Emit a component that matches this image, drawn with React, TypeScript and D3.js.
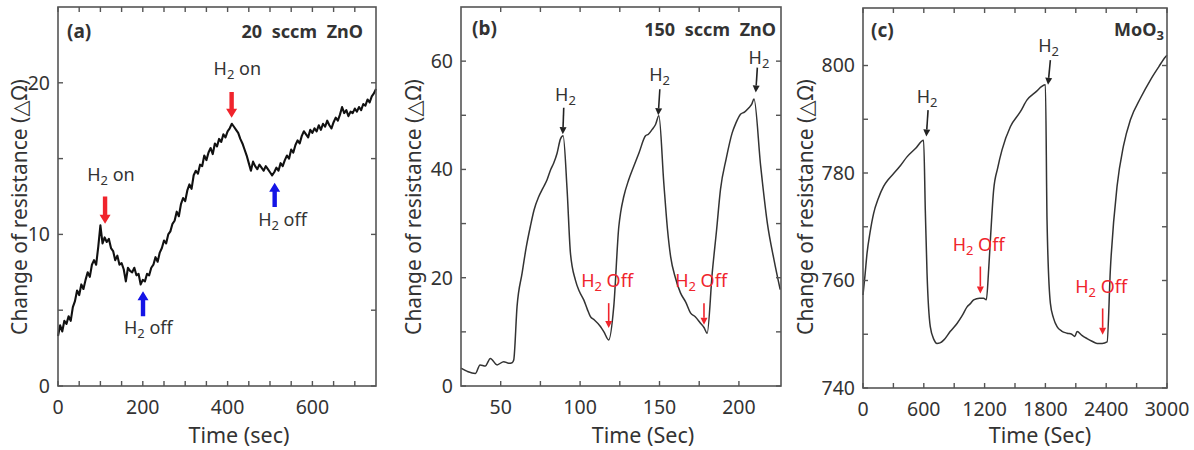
import React from "react";
import * as d3 from "d3";

// ---------- DATA ----------
// Panel (a): 20 sccm ZnO, sampled every 5 s
const aTime = d3.range(0, 755, 5);
const aValue = [
  3.3, 4.0, 3.6, 4.3, 4.1, 4.6, 4.3, 5.2, 5.6, 6.3,
  6.0, 6.7, 6.4, 7.0, 7.5, 7.2, 8.0, 8.3, 8.0, 9.2,
  10.6, 9.4, 9.8, 9.5, 9.7, 9.1, 8.9, 8.3, 8.6, 8.0,
  8.1, 7.7, 6.9, 7.8, 7.6, 7.5, 7.8, 7.3, 7.4, 6.7,
  7.0, 6.9, 7.4, 7.3, 7.8, 8.0, 8.5, 8.2, 8.8, 9.1,
  9.6, 9.4, 10.0, 10.2, 10.7, 10.9, 11.5, 11.2, 12.0, 12.4,
  12.2, 12.9, 13.3, 13.0, 13.9, 14.2, 14.0, 14.6, 14.5, 15.2,
  14.9, 15.4, 15.7, 15.3, 16.0, 15.8, 16.3, 16.1, 16.6, 16.4,
  16.8, 17.0, 17.3, 17.1, 16.9, 16.7, 16.3, 16.0, 15.6, 15.2,
  14.7, 14.2, 14.8, 14.5, 14.3, 14.6, 14.4, 14.2, 14.5, 14.3,
  14.1, 13.9, 14.1, 14.4, 14.2, 14.7, 14.5, 14.9, 15.2, 15.0,
  15.6, 15.4, 15.9, 16.2, 16.0, 16.5, 16.8, 16.6, 16.4, 16.9,
  16.7, 17.0, 16.8, 17.2, 16.9, 17.3, 17.1, 17.5, 17.2, 17.0,
  17.4, 17.7, 17.5, 17.9, 18.4, 18.0, 18.2, 17.8, 18.1, 18.0,
  18.3, 18.1, 18.4, 18.2, 18.6, 18.5, 18.9, 18.7, 19.1, 19.3,
  19.6,
];

// Panel (b): 150 sccm ZnO
const bTime = [
  25, 29, 34, 37, 40.3, 43.5, 47.7, 51.9, 55, 57.2, 58.2, 60.3, 63.5, 66, 68.7, 71, 74, 76.5,
  79.2, 81.5, 83.4, 85.5, 87.6, 89.3, 91.8, 93.9, 97, 99.5, 102.3, 104.5, 106.5, 109, 112.8,
  115, 118, 121.2, 124.4, 125.5, 127.5, 130.5, 133.8, 137, 141.2, 143, 145.4, 147.5, 149.6,
  152.7, 155, 157, 160, 163.2, 166.5, 169.5, 172.5, 175.8, 178, 180, 183.2, 186, 188.4, 192,
  195.8, 198, 201, 203.5, 206.3, 208, 209.5, 213.7, 217.9, 222.1, 226,
];
const bValue = [
  3.3, 2.7, 2.3, 3.9, 3.7, 5.1, 3.9, 4.5, 4.2, 4.3, 4.8, 14.7, 20.9, 25.5, 29.5, 32.5, 35, 36.5,
  38.1, 40, 41.2, 43, 45.6, 46.2, 36.3, 24.6, 19.6, 17.5, 15.9, 14.2, 12.8, 12.2, 11.0,
  10.0, 8.5, 14.7, 29.5, 32, 35, 38, 40.6, 43, 46.2, 46.5, 47.4, 48.3, 49.9,
  37.5, 29, 23.9, 20, 17.2, 15.5, 13.5, 12.8, 11.6, 10.8, 9.75, 20.9, 29, 36.3, 42,
  46.8, 48.5, 50.2, 50.6, 51.4, 52, 53, 40.6, 30.1, 23.3, 17.8,
];

// Panel (c): MoO3
const cTime = [
  0, 20, 40, 70, 105, 150, 203, 250, 302, 370, 434, 520, 598, 615, 632, 664, 700, 730, 760,
  796, 860, 928, 980, 1027, 1060, 1092, 1150, 1190, 1217, 1240, 1257, 1289, 1330, 1372, 1454,
  1553, 1619, 1700, 1800, 1816, 1849, 1880, 1915, 1960, 2014, 2060, 2090, 2113, 2160, 2211,
  2260, 2310, 2360, 2409, 2441, 2507, 2570, 2639, 2740, 2836, 2920, 2984, 3000,
];
const cValue = [
  757.3, 761, 765.1, 769, 772.5, 775.2, 777.5, 778.8, 779.9, 781.4, 783, 784.6, 786.1, 773, 761.3, 751.4, 749, 748.3, 748.4,
  748.9, 750.5, 752, 753.5, 755.1, 755.7, 756.4, 756.7, 756.7, 756.4, 762, 767.5, 776.8, 781, 784.3, 788.6,
  791.4, 793.6, 795, 796.4, 771.3, 755.8, 753, 751.4, 750.6, 750.2, 750, 749.6, 750.5, 749.8, 749.2,
  748.7, 748.3, 748.3, 748.6, 762, 777.5, 785, 789.9, 794, 797.3, 799.8, 801.6, 801.9,
];

const aXTicks = [0, 200, 400, 600];
const aXMinor = [50, 100, 150, 250, 300, 350, 450, 500, 550, 650, 700];
const aYTicks = [0, 10, 20];
const aYMinor = [5, 15];
const bXTicks = [50, 100, 150, 200];
const bXMinor = [75, 125, 175];
const bYTicks = [0, 20, 40, 60];
const bYMinor = [10, 30, 50];
const cXTicks = [0, 600, 1200, 1800, 2400, 3000];
const cXMinor = [300, 900, 1500, 2100, 2700];
const cYTicks = [740, 760, 780, 800];
const cYMinor = [750, 770, 790];

// ---------- STYLE ----------
const FONT = "'Noto Sans', 'DejaVu Sans', sans-serif";
const TEXT = "#333";
const FRAME = "#555";
const RED = "#f0242c";
const BLUE = "#1414e6";

type Ann =
  | { kind: "thick"; t: number; v0: number; v1: number; color: string }
  | { kind: "thin"; t0: number; v0: number; t1: number; v1: number; color: string }
  | { kind: "text"; t: number; v: number; rest: string; color: string };

interface PanelCfg {
  left: number; right: number; top: number; bottom: number;
  xDomain: [number, number]; yDomain: [number, number];
  xTicks: number[]; xMinor: number[]; yTicks: number[]; yMinor: number[];
  time: number[]; value: number[];
  smooth: boolean; stroke: string; strokeWidth: number;
  tag: string; tagX: number; tagY: number;
  title: string; titleSub?: string; titleX: number; titleY: number;
  yLabelX: number; xTitle: string; xTitleX: number;
  anns: Ann[];
}

const H2 = ({ rest, size }: { rest: string; size: number }) => (
  <>
    <tspan>H</tspan>
    <tspan fontSize={size * 0.72} dy={4}>2</tspan>
    <tspan dy={-4}>{rest}</tspan>
  </>
);

function Panel({ c }: { c: PanelCfg }) {
  const x = d3.scaleLinear().domain(c.xDomain).range([c.left, c.right]);
  const y = d3.scaleLinear().domain(c.yDomain).range([c.bottom, c.top]);
  const pts = c.time.map((t, i) => [t, c.value[i]] as [number, number]);
  const line = d3
    .line<[number, number]>()
    .x((d) => x(d[0]))
    .y((d) => y(d[1]))
    .curve(c.smooth ? d3.curveMonotoneX : d3.curveLinear);
  const TL = 5;
  const els: React.ReactNode[] = [];

  c.anns.forEach((a, i) => {
    if (a.kind === "thick") {
      const px = x(a.t), y0 = y(a.v0), y1 = y(a.v1);
      const dir = Math.sign(y1 - y0);
      const w = 2.2, hw = 5.5, hl = 9;
      const yh = y1 - dir * hl;
      const p = [
        [px - w, y0], [px + w, y0], [px + w, yh], [px + hw, yh], [px, y1], [px - hw, yh], [px - w, yh],
      ];
      els.push(<polygon key={i} points={p.map((q) => q.join(",")).join(" ")} fill={a.color} />);
    } else if (a.kind === "thin") {
      const x0 = x(a.t0), y0 = y(a.v0), x1 = x(a.t1), y1 = y(a.v1);
      const dx = x1 - x0, dy = y1 - y0, L = Math.hypot(dx, dy);
      const ux = dx / L, uy = dy / L;
      const hl = 7, hw = 3.5;
      const bx = x1 - ux * hl, by = y1 - uy * hl;
      els.push(
        <g key={i}>
          <line x1={x0} y1={y0} x2={bx} y2={by} stroke={a.color} strokeWidth={1.6} />
          <polygon
            points={`${x1},${y1} ${bx - uy * hw},${by + ux * hw} ${bx + uy * hw},${by - ux * hw}`}
            fill={a.color}
          />
        </g>
      );
    } else {
      els.push(
        <text key={i} x={x(a.t)} y={y(a.v)} textAnchor="middle" fontSize={18} fill={a.color} fontFamily={FONT}>
          <H2 rest={a.rest} size={18} />
        </text>
      );
    }
  });

  return (
    <g>
      <path d={line(pts) ?? ""} fill="none" stroke={c.stroke} strokeWidth={c.strokeWidth} strokeLinejoin="round" />
      <rect x={c.left} y={c.top} width={c.right - c.left} height={c.bottom - c.top} fill="none" stroke={FRAME} strokeWidth={1.6} />
      {[...c.xTicks, ...c.xMinor].map((t) => (
        <g key={"xt" + t}>
          <line x1={x(t)} x2={x(t)} y1={c.bottom} y2={c.bottom - TL} stroke={FRAME} strokeWidth={1.4} />
          <line x1={x(t)} x2={x(t)} y1={c.top} y2={c.top + TL} stroke={FRAME} strokeWidth={1.4} />
        </g>
      ))}
      {[...c.yTicks, ...c.yMinor].map((v) => (
        <g key={"yt" + v}>
          <line x1={c.left} x2={c.left + TL} y1={y(v)} y2={y(v)} stroke={FRAME} strokeWidth={1.4} />
          <line x1={c.right} x2={c.right - TL} y1={y(v)} y2={y(v)} stroke={FRAME} strokeWidth={1.4} />
        </g>
      ))}
      {c.xTicks.map((t) => (
        <text key={"xl" + t} x={x(t)} y={c.bottom + 28} textAnchor="middle" fontSize={19.5} fill={TEXT} fontFamily={FONT}>
          {t}
        </text>
      ))}
      {c.yTicks.map((v) => (
        <text key={"yl" + v} x={c.left - 8} y={y(v)} dy="0.35em" textAnchor="end" fontSize={19.5} fill={TEXT} fontFamily={FONT}>
          {v}
        </text>
      ))}
      <text x={c.xTitleX} y={443} textAnchor="middle" fontSize={21.5} fill={TEXT} fontFamily={FONT}>
        {c.xTitle}
      </text>
      <text
        transform={`translate(${c.yLabelX},207) rotate(-90)`}
        dy="0.35em"
        textAnchor="middle"
        fontSize={21}
        fill={TEXT}
        fontFamily={FONT}
      >
        Change of resistance (△Ω)
      </text>
      <text x={c.tagX} y={c.tagY} fontSize={19} fontWeight="bold" fill={TEXT} fontFamily={FONT}>
        {c.tag}
      </text>
      <text x={c.titleX} y={c.titleY} textAnchor="end" fontSize={18} fontWeight="bold" fill={TEXT} fontFamily={FONT} wordSpacing={5}>
        {c.title}
        {c.titleSub && <tspan fontSize={13} dy={4}>{c.titleSub}</tspan>}
      </text>
      {els}
    </g>
  );
}

const panels: PanelCfg[] = [
  {
    left: 58, right: 376, top: 7, bottom: 386,
    xDomain: [0, 750], yDomain: [0, 25],
    xTicks: aXTicks, xMinor: aXMinor, yTicks: aYTicks, yMinor: aYMinor,
    time: aTime, value: aValue, smooth: false, stroke: "#111", strokeWidth: 2.1,
    tag: "(a)", tagX: 67, tagY: 38, title: "20 sccm ZnO", titleX: 363, titleY: 38,
    yLabelX: 20, xTitle: "Time (sec)", xTitleX: 239,
    anns: [
      { kind: "text", t: 125, v: 13.5, rest: " on", color: TEXT },
      { kind: "thick", t: 111, v0: 12.5, v1: 10.7, color: RED },
      { kind: "text", t: 423, v: 20.5, rest: " on", color: TEXT },
      { kind: "thick", t: 409.5, v0: 19.4, v1: 17.7, color: RED },
      { kind: "thick", t: 200.5, v0: 4.6, v1: 6.25, color: BLUE },
      { kind: "text", t: 213, v: 3.45, rest: " off", color: TEXT },
      { kind: "thick", t: 511, v0: 11.8, v1: 13.4, color: BLUE },
      { kind: "text", t: 529.5, v: 10.55, rest: " off", color: TEXT },
    ],
  },
  {
    left: 461, right: 781, top: 7, bottom: 386,
    xDomain: [25, 226.5], yDomain: [0, 70],
    xTicks: bXTicks, xMinor: bXMinor, yTicks: bYTicks, yMinor: bYMinor,
    time: bTime, value: bValue, smooth: true, stroke: "#333", strokeWidth: 1.5,
    tag: "(b)", tagX: 472, tagY: 35, title: "150 sccm ZnO", titleX: 776, titleY: 36,
    yLabelX: 414, xTitle: "Time (Sec)", xTitleX: 643,
    anns: [
      { kind: "text", t: 90.8, v: 52.6, rest: "", color: TEXT },
      { kind: "thin", t0: 89.7, v0: 51.4, t1: 89.1, v1: 46.5, color: "#222" },
      { kind: "text", t: 150, v: 56.4, rest: "", color: TEXT },
      { kind: "thin", t0: 150.2, v0: 54.8, t1: 149.2, v1: 50, color: "#222" },
      { kind: "text", t: 212.6, v: 59.4, rest: "", color: TEXT },
      { kind: "thin", t0: 211.6, v0: 58.8, t1: 210.6, v1: 54.2, color: "#222" },
      { kind: "text", t: 117, v: 18.2, rest: " Off", color: RED },
      { kind: "thin", t0: 118, v0: 15.3, t1: 118, v1: 10.7, color: RED },
      { kind: "text", t: 176.2, v: 18.2, rest: " Off", color: RED },
      { kind: "thin", t0: 178, v0: 15.3, t1: 178, v1: 11.3, color: RED },
    ],
  },
  {
    left: 863, right: 1167, top: 8, bottom: 388,
    xDomain: [0, 3000], yDomain: [740, 810.7],
    xTicks: cXTicks, xMinor: cXMinor, yTicks: cYTicks, yMinor: cYMinor,
    time: cTime, value: cValue, smooth: true, stroke: "#333", strokeWidth: 1.5,
    tag: "(c)", tagX: 871, tagY: 37, title: "MoO", titleSub: "3", titleX: 1164, titleY: 36,
    yLabelX: 806, xTitle: "Time (Sec)", xTitleX: 1040,
    anns: [
      { kind: "text", t: 632, v: 793, rest: "", color: TEXT },
      { kind: "thin", t0: 642, v0: 791.7, t1: 625, v1: 786.8, color: "#222" },
      { kind: "text", t: 1832, v: 802.6, rest: "", color: TEXT },
      { kind: "thin", t0: 1849, v0: 801, t1: 1826, v1: 796.4, color: "#222" },
      { kind: "text", t: 1141, v: 765.4, rest: " Off", color: RED },
      { kind: "thin", t0: 1158, v0: 762.6, t1: 1158, v1: 757.6, color: RED },
      { kind: "text", t: 2350, v: 757.6, rest: " Off", color: RED },
      { kind: "thin", t0: 2365, v0: 754.8, t1: 2365, v1: 749.9, color: RED },
    ],
  },
];

export default function App() {
  return (
    <svg width={1194} height={450} style={{ position: "absolute", left: 0, top: 0, background: "#fff" }}>
      <rect width={1194} height={450} fill="#fff" />
      {panels.map((p, i) => (
        <Panel key={i} c={p} />
      ))}
    </svg>
  );
}
